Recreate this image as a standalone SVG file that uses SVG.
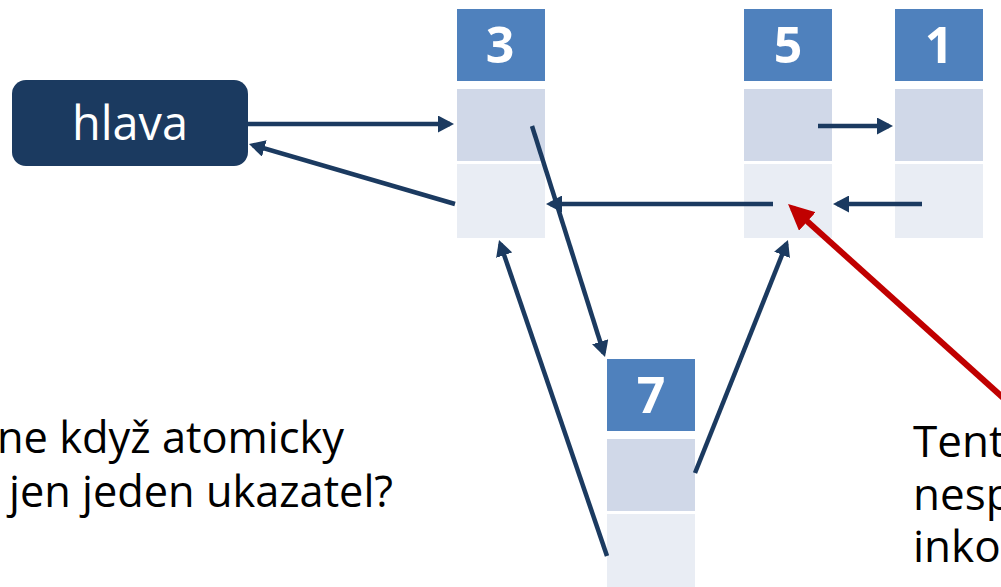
<svg xmlns="http://www.w3.org/2000/svg" width="1001" height="587" viewBox="0 0 1001 587">
<defs>
<style>
.hd{fill:#4f81bd}
.md{fill:#d0d8e8}
.bt{fill:#e9edf4}
.num{font-family:"Open Sans","Noto Sans",sans-serif;font-weight:bold;font-size:50px;fill:#ffffff;text-anchor:middle}
.txt{font-family:"Open Sans","Noto Sans",sans-serif;font-size:44px;fill:#000000}
.con{stroke:#1b3a60;stroke-width:4.5;fill:none;marker-end:url(#ah)}
.red{stroke:#c00000;stroke-width:6;fill:none;marker-end:url(#rh)}
</style>
<marker id="ah" markerUnits="userSpaceOnUse" markerWidth="16" markerHeight="17" refX="12" refY="8.5" orient="auto">
<path d="M0,0 L16,8.5 L0,17 z" fill="#1b3a60"/>
</marker>
<marker id="rh" markerUnits="userSpaceOnUse" markerWidth="26" markerHeight="25" refX="20" refY="12.5" orient="auto">
<path d="M0,0 L26,12.5 L0,25 z" fill="#c00000"/>
</marker>
</defs>
<rect width="1001" height="587" fill="#ffffff"/>
<g id="hlava">
<rect x="12" y="80" width="236" height="86" rx="14" fill="#1b3a60"/>
<text x="130" y="140" font-family="Open Sans, Noto Sans, sans-serif" font-size="48" fill="#ffffff" text-anchor="middle" textLength="116" lengthAdjust="spacingAndGlyphs">hlava</text>
</g>
<g id="node3">
<rect class="hd" x="457" y="9" width="88" height="72"/>
<rect class="md" x="457" y="89" width="88" height="72"/>
<rect class="bt" x="457" y="164" width="88" height="74"/>
<text class="num" x="500" y="63">3</text>
</g>
<g id="node5">
<rect class="hd" x="744" y="9" width="88" height="72"/>
<rect class="md" x="744" y="89" width="88" height="72"/>
<rect class="bt" x="744" y="164" width="88" height="74"/>
<text class="num" x="788" y="63">5</text>
</g>
<g id="node1">
<rect class="hd" x="895" y="9" width="88" height="72"/>
<rect class="md" x="895" y="89" width="88" height="72"/>
<rect class="bt" x="895" y="164" width="88" height="74"/>
<text class="num" x="939" y="63">1</text>
</g>
<g id="node7">
<rect class="hd" x="607" y="359" width="88" height="72"/>
<rect class="md" x="607" y="439" width="88" height="72"/>
<rect class="bt" x="607" y="514" width="88" height="74"/>
<text class="num" x="651" y="413">7</text>
</g>
<g id="connectors">
<line class="con" x1="248" y1="124" x2="450" y2="124"/>
<line class="con" x1="455" y1="204" x2="252.8" y2="145.1"/>
<line class="con" x1="532" y1="126" x2="603.8" y2="353.2"/>
<line class="con" x1="773" y1="204" x2="550" y2="204"/>
<line class="con" x1="818" y1="126" x2="889" y2="126"/>
<line class="con" x1="922" y1="204" x2="837" y2="204"/>
<line class="con" x1="607" y1="556" x2="500.3" y2="243.8"/>
<line class="con" x1="695" y1="473" x2="786.5" y2="243.7"/>
<line class="red" x1="1010" y1="404" x2="792.5" y2="208"/>
</g>
<g id="texts">
<text class="txt" x="-3" y="453" textLength="347" lengthAdjust="spacingAndGlyphs">ne když atomicky</text>
<text class="txt" x="9" y="507" textLength="384" lengthAdjust="spacingAndGlyphs">jen jeden ukazatel?</text>
<text class="txt" x="913" y="457">Tento</text>
<text class="txt" x="913" y="510">nesp</text>
<text class="txt" x="913" y="562">inko</text>
</g>
</svg>
